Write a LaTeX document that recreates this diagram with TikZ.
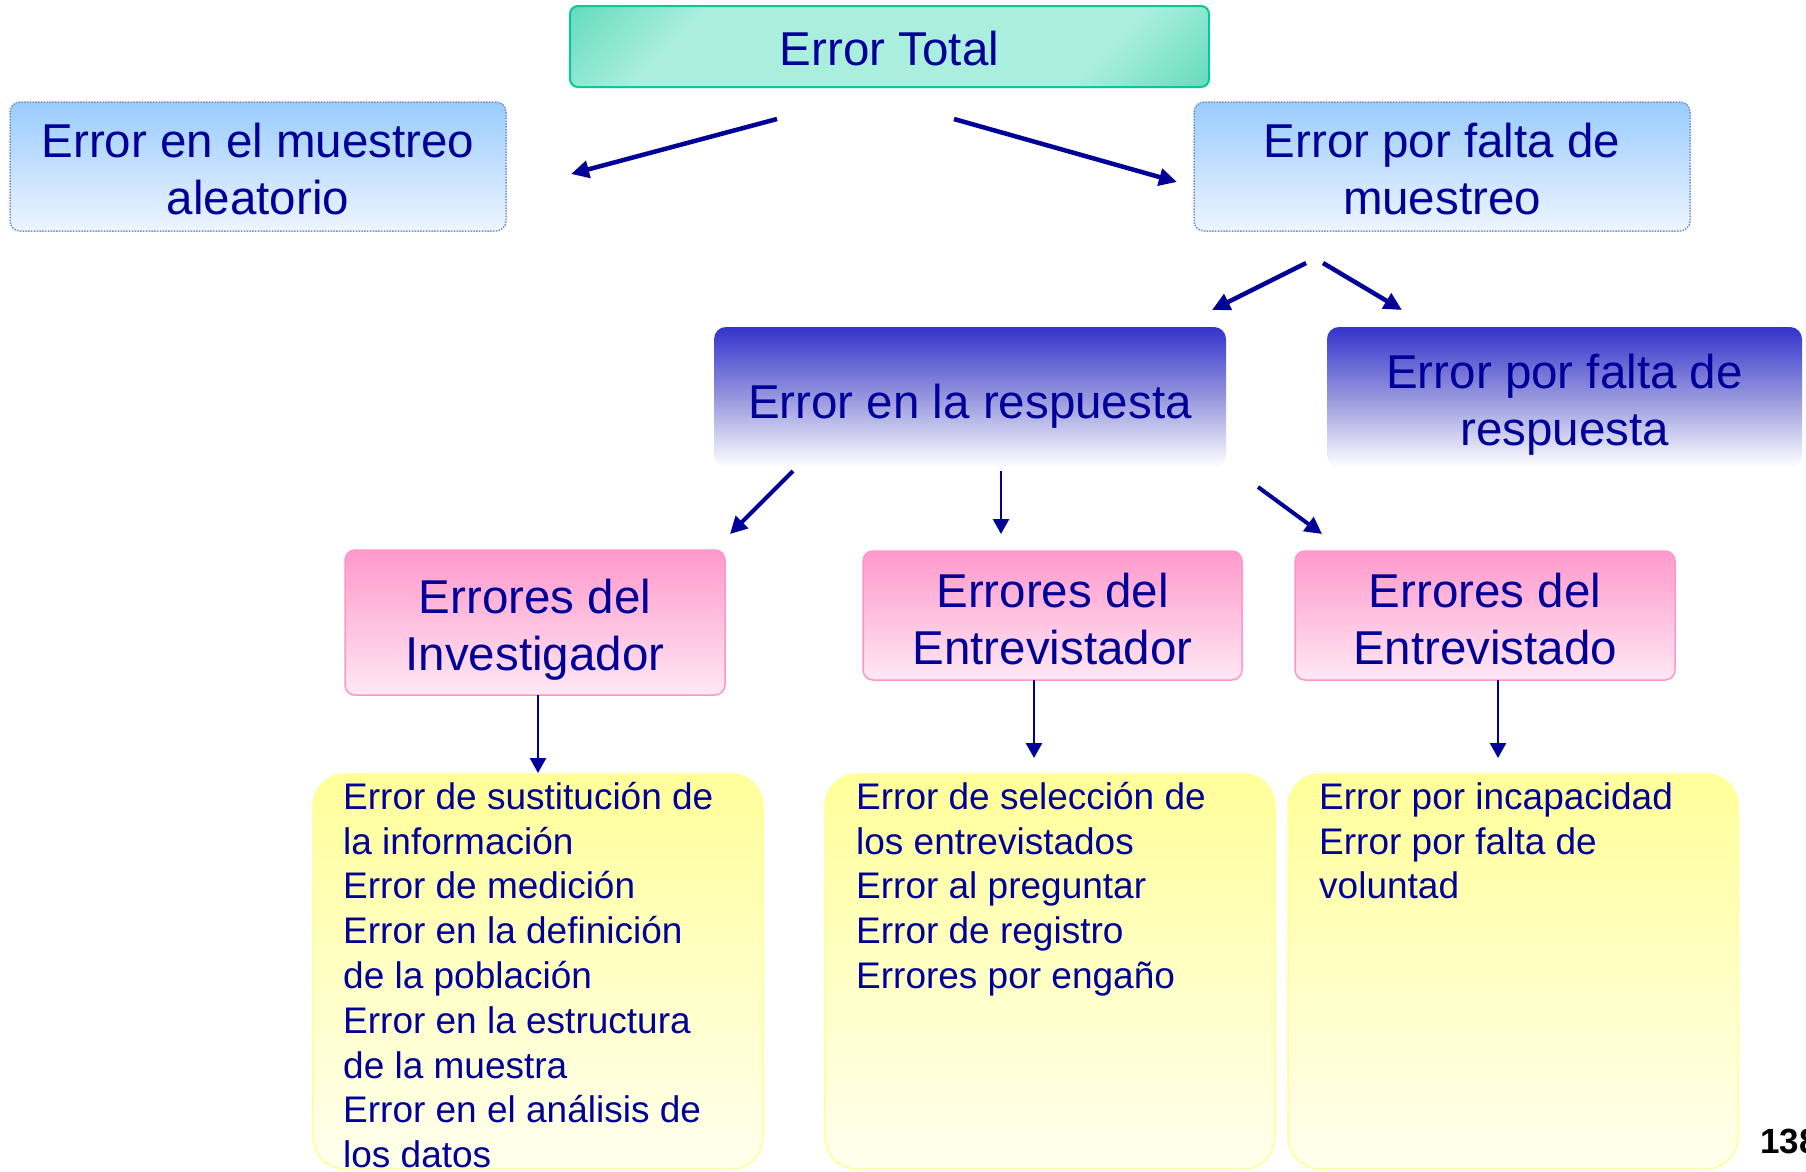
\documentclass[tikz,border=0pt]{standalone}
\usepackage{fontspec}
\setmainfont{Liberation Sans}
\usetikzlibrary{arrows.meta}
\definecolor{navy}{RGB}{0,0,153}
\definecolor{totdk}{RGB}{28,200,150}
\definecolor{totlt}{RGB}{170,238,222}
\definecolor{totbd}{RGB}{0,204,153}
\definecolor{bltop}{RGB}{153,204,255}
\definecolor{blbot}{RGB}{238,245,255}
\definecolor{bldot}{RGB}{110,140,225}
\definecolor{rstop}{RGB}{51,51,204}
\definecolor{rsmid}{RGB}{150,150,222}
\definecolor{pktop}{RGB}{255,153,204}
\definecolor{pkbot}{RGB}{255,232,243}
\definecolor{pkbd}{RGB}{255,150,200}
\definecolor{yltop}{RGB}{255,255,153}
\definecolor{ylbot}{RGB}{255,255,238}
\definecolor{ylbd}{RGB}{255,255,150}
\pgfdeclareverticalshading{totshade}{100bp}{color(0bp)=(totdk); color(28bp)=(totlt); color(72bp)=(totlt); color(100bp)=(totdk)}
\newcommand\bigstrutA{\rule{0pt}{40pt}}
\newcommand\liststrutA{\rule{0pt}{36pt}}
\begin{document}
\begin{tikzpicture}[x=1pt,y=-1pt,
  box/.style={rectangle, inner sep=0pt},
  totbox/.style={box, draw=totbd, line width=2pt, rounded corners=8pt, shade, shading=totshade, shading angle=45},
  bluebox/.style={box, draw=bldot, line width=1.5pt, dash pattern=on 1.5pt off 1.3pt, rounded corners=10pt, top color=bltop, bottom color=blbot},
  rspbox/.style={box, rounded corners=12pt, top color=rstop, bottom color=white, middle color=rsmid},
  pinkbox/.style={box, draw=pkbd, line width=1.5pt, rounded corners=10pt, top color=pktop, bottom color=pkbot},
  yelbox/.style={box, draw=ylbd, line width=1.5pt, rounded corners=32pt, top color=yltop, bottom color=ylbot},
  bigtxt/.style={inner sep=0pt, anchor=north, align=center, text=navy, font=\fontsize{47.5}{57}\selectfont},
  listtxt/.style={inner sep=0pt, anchor=north west, align=left, text=navy, font=\fontsize{37}{44.8}\selectfont},
  arrthick/.style={draw=navy, line width=4.5pt, -{Triangle[length=18pt,width=17pt]}},
  arrmed/.style={draw=navy, line width=4pt, -{Triangle[length=17pt,width=17pt]}},
  arrthin/.style={draw=navy, line width=2.5pt, -{Triangle[length=15pt,width=16pt]}}
]
\useasboundingbox (0,0) rectangle (1806,1171);
\clip (0,0) rectangle (1806,1171);
\fill[white] (0,0) rectangle (1806,1171);

% boxes
\node[totbox, minimum width=639pt, minimum height=81pt] (tot) at (889.5,46.5) {};
\node[bluebox, minimum width=496pt, minimum height=129pt] (ma) at (258,166.5) {};
\node[bluebox, minimum width=496pt, minimum height=129pt] (fm) at (1442,166.5) {};
\node[rspbox, minimum width=512pt, minimum height=140pt] (rsp) at (970,397) {};
\node[rspbox, minimum width=475pt, minimum height=140pt] (frsp) at (1564.5,397) {};
\node[pinkbox, minimum width=380pt, minimum height=145pt] (inv) at (535,622.5) {};
\node[pinkbox, minimum width=379pt, minimum height=129pt] (ent) at (1052.5,615.5) {};
\node[pinkbox, minimum width=380pt, minimum height=129pt] (ent2) at (1485,615.5) {};
\node[yelbox, minimum width=450pt, minimum height=395pt] (y1) at (538,971.5) {};
\node[yelbox, minimum width=450pt, minimum height=395pt] (y2) at (1050,971.5) {};
\node[yelbox, minimum width=450pt, minimum height=395pt] (y3) at (1513,971.5) {};

% texts
\node[bigtxt] (tott) at (889.5,25) {\bigstrutA Error Total};
\node[bigtxt] (mat) at (258,117) {\bigstrutA Error en el muestreo\\aleatorio};
\node[bigtxt] (fmt) at (1442,117) {\bigstrutA Error por falta de\\muestreo};
\node[bigtxt] (rspt) at (970,378) {\bigstrutA Error en la respuesta};
\node[bigtxt] (frspt) at (1564.5,348) {\bigstrutA Error por falta de\\respuesta};
\node[bigtxt] (invt) at (535,573) {\bigstrutA Errores del\\Investigador};
\node[bigtxt] (entt) at (1052.5,567) {\bigstrutA Errores del\\Entrevistador};
\node[bigtxt] (ent2t) at (1485,567) {\bigstrutA Errores del\\Entrevistado};

\node[listtxt] (y1t) at (343,773) {\liststrutA Error de sustitución de\\la información\\Error de medición\\Error en la definición\\de la población\\Error en la estructura\\de la muestra\\Error en el análisis de\\los datos};
\node[listtxt] (y2t) at (856,773) {\liststrutA Error de selección de\\los entrevistados\\Error al preguntar\\Error de registro\\Errores por engaño};
\node[listtxt] (y3t) at (1319,773) {\liststrutA Error por incapacidad\\Error por falta de\\voluntad};

\node[anchor=base west, inner sep=0pt, font=\fontsize{35}{42}\selectfont\bfseries] (pg) at (1760,1153) {138};

% connector end points
\coordinate (a1s) at (777,119);  \coordinate (a1e) at (571,174);
\coordinate (a2s) at (954,119);  \coordinate (a2e) at (1177,182);
\coordinate (a3s) at (1306,263); \coordinate (a3e) at (1212,310);
\coordinate (a4s) at (1323,263); \coordinate (a4e) at (1402,310);
\coordinate (a5s) at (793,471);  \coordinate (a5e) at (730,534);
\coordinate (a6s) at (1001,471); \coordinate (a6e) at (1001,534);
\coordinate (a7s) at (1258,487); \coordinate (a7e) at (1322,534);
\coordinate (a8s) at (538,695);  \coordinate (a8e) at (538,773);
\coordinate (a9s) at (1034,680); \coordinate (a9e) at (1034,758);
\coordinate (a10s) at (1498,680); \coordinate (a10e) at (1498,758);

\draw[arrthick] (a1s) -- (a1e);
\draw[arrthick] (a2s) -- (a2e);
\draw[arrthick] (a3s) -- (a3e);
\draw[arrthick] (a4s) -- (a4e);
\draw[arrmed] (a5s) -- (a5e);
\draw[arrthin] (a6s) -- (a6e);
\draw[arrmed] (a7s) -- (a7e);
\draw[arrthin] (a8s) -- (a8e);
\draw[arrthin] (a9s) -- (a9e);
\draw[arrthin] (a10s) -- (a10e);
\end{tikzpicture}
\end{document}
